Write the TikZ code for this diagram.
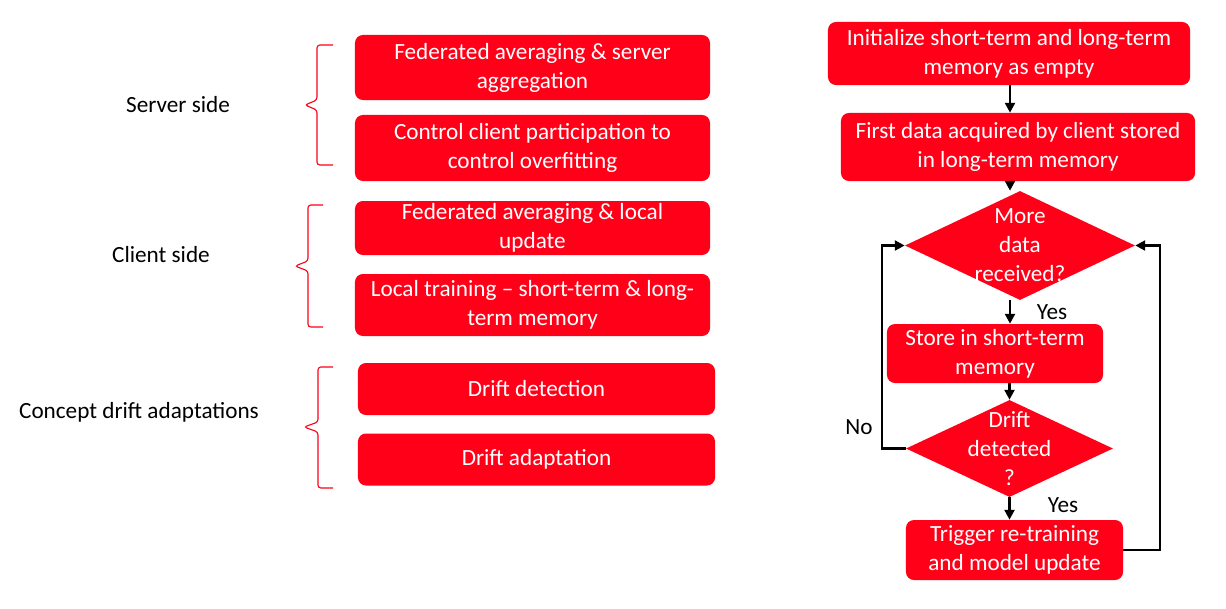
\documentclass[tikz,border=0pt]{standalone}
\usepackage{fontspec}
\setmainfont{Carlito}
\usetikzlibrary{shapes.geometric,arrows.meta}
\definecolor{boxred}{RGB}{255,0,24}
\begin{document}
\begin{tikzpicture}[
			x=0.025cm, y=-0.025cm,
			every node/.style={font=\fontsize{16.5}{20.6}\selectfont},
			redbox/.style={rectangle,rounded corners=0.2cm,fill=boxred,text=white,align=center,inner sep=0pt},
			decision/.style={diamond,fill=boxred,inner sep=0pt},
			dtext/.style={text=white,align=center,inner sep=0pt},
			flow/.style={line width=2.1pt,-{Triangle[length=7pt,width=7pt]}},
			bracket/.style={boxred,line width=0.8pt,rounded corners=2pt}
		]
		\useasboundingbox (0,0) rectangle (1226,608);
		% left column
		\node (server) at (178,105) {Server side};
		\node (client) at (161,255) {Client side};
		\node (concept) at (139,412) {Concept drift adaptations};
		\draw[bracket] (333,45) -- (317,45) -- (317,100) -- (305,105) -- (317,110) -- (317,165) -- (333,165);
		\draw[bracket] (323,205) -- (308,205) -- (308,261) -- (295,266) -- (308,271) -- (308,327) -- (323,327);
		\draw[bracket] (333,367) -- (318,367) -- (318,422) -- (304,427) -- (318,432) -- (318,488) -- (333,488);
		\node[redbox,minimum width=8.875cm,minimum height=1.625cm] (fedavg) at (532.5,67.5) {Federated averaging \& server\\aggregation};
		\node[redbox,minimum width=8.875cm,minimum height=1.65cm] (control) at (532.5,148) {Control client participation to\\control overfitting};
		\node[redbox,minimum width=8.875cm,minimum height=1.35cm] (fedlocal) at (532.5,228) {Federated averaging \& local\\update};
		\node[redbox,minimum width=8.875cm,minimum height=1.55cm] (localtrain) at (532.5,305) {Local training -- short-term \& long-\\term memory};
		\node[redbox,minimum width=8.925cm,minimum height=1.3cm] (detect) at (536.5,389) {Drift detection};
		\node[redbox,minimum width=8.925cm,minimum height=1.3cm] (adapt) at (536.5,459.5) {Drift adaptation};
		% flowchart
		\node[redbox,minimum width=9.05cm,minimum height=1.575cm] (init) at (1009,53.5) {Initialize short-term and long-term\\memory as empty};
		\node[redbox,minimum width=8.85cm,minimum height=1.7cm] (first) at (1018,147) {First data acquired by client stored\\in long-term memory};
		\node[decision,minimum width=5.75cm,minimum height=2.725cm] (more) at (1020,245.5) {};
		\node[dtext] (moretext) at (more) {More\\data\\received?};
		\node[redbox,minimum width=5.4cm,minimum height=1.475cm] (store) at (995,353.5) {Store in short-term\\memory};
		\node[decision,minimum width=5.175cm,minimum height=2.425cm] (drift) at (1009.5,448.5) {};
		\node[dtext] (drifttext) at (drift) {Drift\\detected\\?};
		\node[redbox,minimum width=5.425cm,minimum height=1.5cm] (retrain) at (1014.5,550) {Trigger re-training\\and model update};
		\node (yes1) at (1052,312) {Yes};
		\node (yes2) at (1063,505) {Yes};
		\node (no) at (859,427) {No};
		\draw[flow] (init.south -| 1010,0) -- (first.north -| 1010,0);
		\draw[flow] (first.south -| 1010,0) -- (more.north -| 1010,0);
		\draw[flow] (more.south -| 1010,0) -- (store.north -| 1010,0);
		\draw[flow] (store.south -| drift.north) -- (drift.north);
		\draw[flow] (drift.south) -- (drift.south |- retrain.north);
		\draw[flow] (drift.west) -- (882,448.5) |- (more.west);
		\draw[flow] (retrain.east) -- (1160,550) |- (more.east);
\end{tikzpicture}
\end{document}
